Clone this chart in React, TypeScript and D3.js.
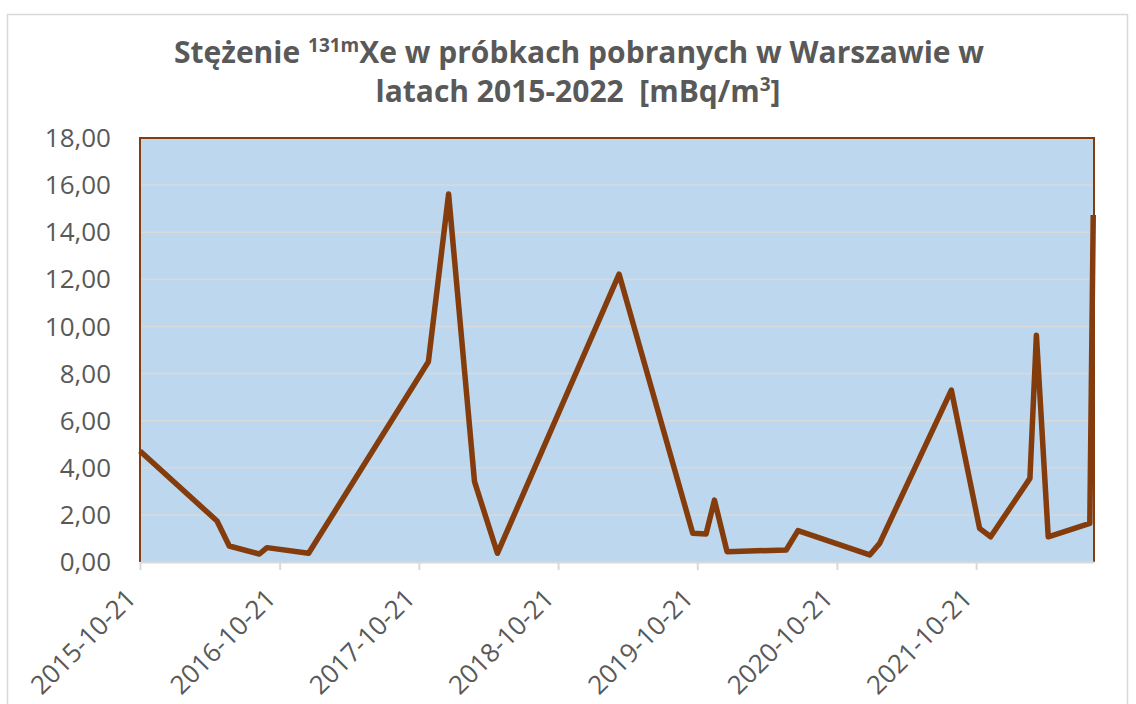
import React, { useEffect, useRef } from "react";
import * as d3 from "d3";

// sample dates and 131mXe concentrations [mBq/m3]
const sampleDates = [
  "2015-10-21", "2016-05-10", "2016-06-11", "2016-08-29", "2016-09-18",
  "2017-01-05", "2017-11-15", "2018-01-07", "2018-03-16", "2018-05-15",
  "2019-03-30", "2019-10-09", "2019-11-13", "2019-12-05", "2020-01-07",
  "2020-06-10", "2020-07-11", "2021-01-15", "2021-02-10", "2021-08-17",
  "2021-10-30", "2021-11-28", "2022-03-11", "2022-03-28", "2022-04-28",
  "2022-08-15", "2022-08-24",
];
const concentrations = [
  4.71, 1.74, 0.68, 0.34, 0.61,
  0.37, 8.5, 15.62, 3.41, 0.37,
  12.22, 1.22, 1.19, 2.63, 0.44,
  0.51, 1.33, 0.3, 0.79, 7.3,
  1.43, 1.07, 3.55, 9.63, 1.07,
  1.64, 14.73,
];
const xTickLabels = [
  "2015-10-21", "2016-10-21", "2017-10-21", "2018-10-21",
  "2019-10-21", "2020-10-21", "2021-10-21",
];
const yTicks = [0, 2, 4, 6, 8, 10, 12, 14, 16, 18];

export default function App() {
  const svgRef = useRef<SVGSVGElement>(null);

  useEffect(() => {
    if (!svgRef.current) return;
    const width = 1136;
    const height = 704;
    const margin = { top: 138, right: 42, bottom: 142, left: 140 };
    const textColor = "#595959";
    const brown = "#843C0C";
    const font = "'Open Sans', sans-serif";

    const svg = d3.select(svgRef.current);
    svg.selectAll("*").remove();
    svg.attr("width", width).attr("height", height);

    const parse = d3.timeParse("%Y-%m-%d");
    const data = sampleDates.map((d, i) => ({
      date: parse(d) as Date,
      value: concentrations[i],
    }));

    const x = d3
      .scaleTime()
      .domain([parse("2015-10-21") as Date, parse("2022-08-26") as Date])
      .range([margin.left, width - margin.right]);

    const y = d3
      .scaleLinear()
      .domain([0, 18])
      .range([height - margin.bottom, margin.top]);

    // chart area
    svg
      .append("rect")
      .attr("width", width)
      .attr("height", height)
      .attr("fill", "#fff");
    svg
      .append("rect")
      .attr("x", 7.5)
      .attr("y", 14.5)
      .attr("width", 1120)
      .attr("height", 700)
      .attr("fill", "none")
      .attr("stroke", "#d9d9d9")
      .attr("stroke-width", 1.5);

    // plot area
    svg
      .append("rect")
      .attr("x", margin.left)
      .attr("y", margin.top)
      .attr("width", width - margin.left - margin.right)
      .attr("height", height - margin.top - margin.bottom)
      .attr("fill", "#BDD7EE");

    // gridlines
    svg
      .append("g")
      .selectAll("line")
      .data(yTicks.slice(1))
      .join("line")
      .attr("x1", margin.left)
      .attr("x2", width - margin.right)
      .attr("y1", (d) => y(d))
      .attr("y2", (d) => y(d))
      .attr("stroke", "#d9d9d9")
      .attr("stroke-width", 1.5);

    // plot border (brown)
    svg
      .append("path")
      .attr(
        "d",
        `M${margin.left},${height - margin.bottom}V${margin.top}H${width - margin.right}V${height - margin.bottom}`
      )
      .attr("fill", "none")
      .attr("stroke", brown)
      .attr("stroke-width", 2);

    // x axis
    const xAxis = svg
      .append("g")
      .attr("transform", `translate(0,${height - margin.bottom})`)
      .call(
        d3
          .axisBottom(x)
          .tickValues(xTickLabels.map((d) => parse(d) as Date))
          .tickSize(8)
          .tickSizeOuter(0)
          .tickFormat((d) => d3.timeFormat("%Y-%m-%d")(d as Date))
      );
    xAxis.select(".domain").attr("stroke", "#d9d9d9").attr("stroke-width", 2);
    xAxis.selectAll(".tick line").attr("stroke", "#d9d9d9").attr("stroke-width", 2);
    xAxis
      .selectAll(".tick text")
      .attr("font-family", font)
      .attr("font-size", 26)
      .attr("fill", textColor)
      .attr("text-anchor", "end")
      .attr("x", 0)
      .attr("y", 0)
      .attr("dy", 0)
      .attr("dominant-baseline", "central")
      .attr("transform", "translate(-10,31) rotate(-45)");

    // y axis labels
    svg
      .append("g")
      .selectAll("text")
      .data(yTicks)
      .join("text")
      .attr("x", 111)
      .attr("y", (d) => y(d))
      .attr("dy", "0.35em")
      .attr("text-anchor", "end")
      .attr("font-family", font)
      .attr("font-size", 26)
      .attr("fill", textColor)
      .text((d) => d3.format(".2f")(d).replace(".", ","));

    // line
    const line = d3
      .line<{ date: Date; value: number }>()
      .x((d) => x(d.date))
      .y((d) => y(d.value));

    svg
      .append("path")
      .datum(data)
      .attr("fill", "none")
      .attr("stroke", brown)
      .attr("stroke-width", 5.5)
      .attr("stroke-linejoin", "round")
      .attr("d", line);

    // title
    const title = svg
      .append("text")
      .attr("text-anchor", "middle")
      .attr("font-family", font)
      .attr("font-weight", "bold")
      .attr("font-size", 30)
      .attr("fill", textColor);
    const l1 = title.append("tspan").attr("x", 579).attr("y", 63);
    l1.append("tspan").text("Stężenie ");
    l1.append("tspan").attr("font-size", 19).attr("dy", -11).text("131m");
    l1.append("tspan").attr("dy", 11).text("Xe w próbkach pobranych w Warszawie w");
    const l2 = title.append("tspan").attr("x", 578).attr("y", 102);
    l2.append("tspan").text("latach 2015-2022\u00a0\u00a0[mBq/m");
    l2.append("tspan").attr("font-size", 19).attr("dy", -11).text("3");
    l2.append("tspan").attr("dy", 11).text("]");
  }, []);

  return (
    <svg
      ref={svgRef}
      style={{ position: "absolute", left: 0, top: 0, display: "block" }}
    />
  );
}
